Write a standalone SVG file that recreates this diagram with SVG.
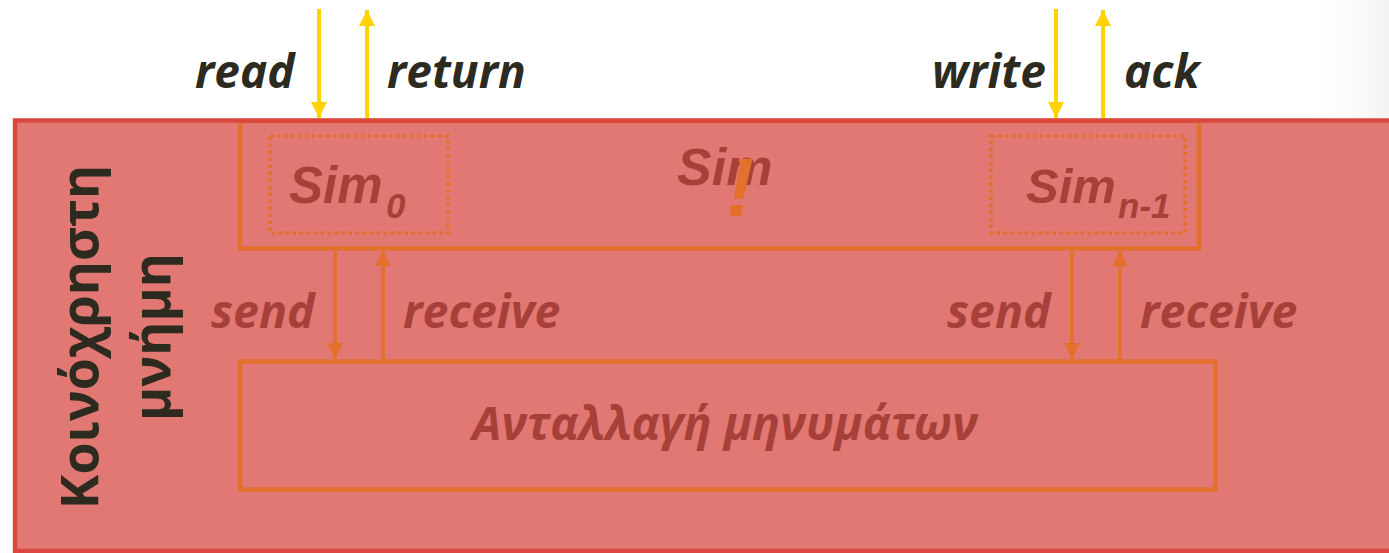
<svg xmlns="http://www.w3.org/2000/svg" width="1389" height="553" viewBox="0 0 1389 553">
  <style>
    .io { font-family: "Open Sans", "Noto Sans", sans-serif; font-weight: bold; font-style: italic; font-size: 46px; fill: #2d2a1f; }
    .msg { font-family: "Open Sans", "Noto Sans", sans-serif; font-weight: bold; font-style: italic; font-size: 46.5px; fill: #a8403a; }
    .sim { font-family: "Liberation Sans", Arial, sans-serif; font-weight: bold; font-style: italic; fill: #a8403a; }
    .vert { font-family: "Open Sans", "Noto Sans", sans-serif; font-weight: bold; font-size: 52px; fill: #2d2a1f; }
    .box { fill: none; stroke: #e4702e; stroke-width: 4.5; }
    .dotbox { fill: none; stroke: #e4702e; stroke-width: 3.5; stroke-dasharray: 3.5 3.5; }
    .ylw { stroke: #ffd200; stroke-width: 4; fill: none; }
    .org { stroke: #e4702e; stroke-width: 4; fill: none; }
  </style>
  <defs>
    <marker id="headY" markerUnits="userSpaceOnUse" markerWidth="16" markerHeight="16" viewBox="0 0 16 16" refX="16" refY="8" orient="auto">
      <path d="M0,0 L16,8 L0,16 z" fill="#ffd200"/>
    </marker>
    <marker id="headO" markerUnits="userSpaceOnUse" markerWidth="16" markerHeight="16" viewBox="0 0 16 16" refX="16" refY="8" orient="auto">
      <path d="M0,0 L16,8 L0,16 z" fill="#e4702e"/>
    </marker>
    <linearGradient id="shade" x1="0" y1="0" x2="1" y2="0">
      <stop offset="0" stop-color="#ffffff" stop-opacity="0"/>
      <stop offset="1" stop-color="#f3f3f3"/>
    </linearGradient>
  </defs>

  <rect x="0" y="0" width="1389" height="553" fill="#ffffff"/>
  <rect x="1300" y="0" width="89" height="120" fill="url(#shade)"/>

  <!-- shared memory region -->
  <g id="shared-memory">
    <rect x="15" y="120.5" width="1390" height="430.5" fill="#e17873"/>
  </g>

  <!-- simulation layer with the two simulators -->
  <g id="sim">
    <rect class="box" x="240" y="121" width="959" height="127.5"/>
    <text class="sim" x="677" y="185" font-size="52">Sim</text>
    <text x="726" y="216" font-family="Liberation Sans, Arial, sans-serif" font-weight="bold" font-style="italic" font-size="84" fill="#e4702e">!</text>
  </g>
  <g id="sim0">
    <rect class="dotbox" x="270" y="136" width="178" height="97"/>
    <text class="sim" x="289" y="203" font-size="51">Sim</text>
    <text class="sim" x="386" y="218" font-size="35">0</text>
  </g>
  <g id="simn1">
    <rect class="dotbox" x="991" y="136" width="194" height="97"/>
    <text class="sim" x="1026" y="203" font-size="49">Sim</text>
    <text class="sim" x="1118" y="218" font-size="35">n-1</text>
  </g>

  <!-- message exchange layer -->
  <g id="messaging">
    <rect class="box" x="240" y="361.5" width="975.5" height="128"/>
    <text class="msg" x="725" y="440" text-anchor="middle" font-size="48">Ανταλλαγή μηνυμάτων</text>
  </g>

  <!-- outer border drawn over the inner boxes -->
  <rect x="15" y="120.5" width="1390" height="430.5" fill="none" stroke="#d9473f" stroke-width="4.5"/>

  <g id="memory-label">
    <text class="vert" transform="translate(98,337) rotate(-90)" text-anchor="middle">Κοινόχρηστη</text>
    <text class="vert" transform="translate(170,337) rotate(-90)" text-anchor="middle">μνήμη</text>
  </g>

  <!-- connectors -->
  <g id="connectors">
    <line class="ylw" x1="319" y1="9" x2="319" y2="118" marker-end="url(#headY)"/>
    <line class="ylw" x1="367" y1="118" x2="367" y2="10" marker-end="url(#headY)"/>
    <line class="ylw" x1="1056" y1="9" x2="1056" y2="118" marker-end="url(#headY)"/>
    <line class="ylw" x1="1103" y1="118" x2="1103" y2="10" marker-end="url(#headY)"/>

    <line class="org" x1="335" y1="250" x2="335" y2="359" marker-end="url(#headO)"/>
    <line class="org" x1="383" y1="359" x2="383" y2="250" marker-end="url(#headO)"/>
    <line class="org" x1="1072" y1="250" x2="1072" y2="359" marker-end="url(#headO)"/>
    <line class="org" x1="1120" y1="359" x2="1120" y2="250" marker-end="url(#headO)"/>

    <text class="io" x="195" y="88">read</text>
    <text class="io" x="387" y="88">return</text>
    <text class="io" x="932" y="88">write</text>
    <text class="io" x="1124" y="88">ack</text>

    <text class="msg" x="211" y="328">send</text>
    <text class="msg" x="403" y="328">receive</text>
    <text class="msg" x="947" y="328">send</text>
    <text class="msg" x="1140" y="328">receive</text>
  </g>
</svg>
